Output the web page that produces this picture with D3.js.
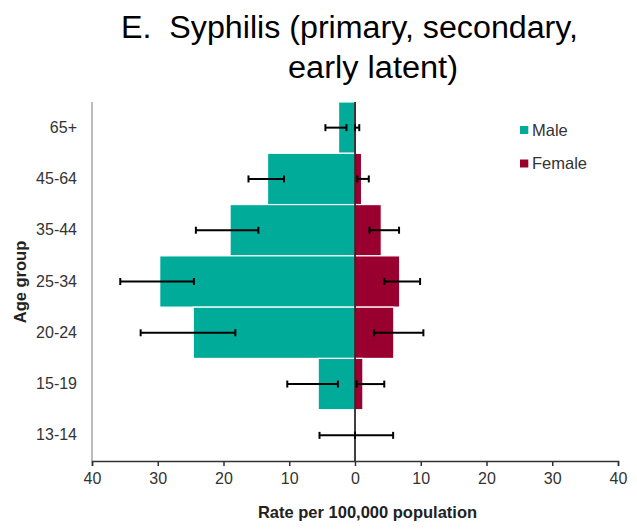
<!DOCTYPE html>
<html><head><meta charset="utf-8">
<script src="https://cdn.jsdelivr.net/npm/d3@7"></script>
<style>body{margin:0;background:#fff;} svg{display:block;font-family:"Liberation Sans",Arial,sans-serif;}</style>
</head><body><svg id="c" width="637" height="529"></svg>
<script>
const ageGroups = ["65+","45-64","35-44","25-34","20-24","15-19","13-14"];
const maleRate = [2.5, 13.3, 19.0, 29.7, 24.6, 5.6, 0];
const maleLow  = [1.3, 10.8, 14.7, 24.5, 18.2, 2.6, 0];
const maleHigh = [4.5, 16.2, 24.2, 35.7, 32.6, 10.3, 5.4];
const femaleRate = [0.2, 1.0, 4.0, 6.8, 5.9, 1.2, 0];
const femaleLow  = [0.0, 0.35, 2.2, 4.45, 2.9, 0.25, 0];
const femaleHigh = [0.65, 2.1, 6.7, 9.9, 10.4, 4.45, 5.8];
const xTicks = [-40,-30,-20,-10,0,10,20,30,40];
const legendItems = ["Male","Female"];
const colors = {Male:"#00AB9A", Female:"#990030"};

const svg = d3.select("#c");
const x = d3.scaleLinear().domain([-40,40]).range([92,618]);
const y = d3.scaleBand().domain(ageGroups).range([102,461]).paddingInner(0).paddingOuter(0);

// bars
const g = svg.append("g");
g.selectAll("rect.m").data(ageGroups).join("rect")
  .attr("x",(d,i)=>x(-maleRate[i])).attr("y",d=>y(d))
  .attr("width",(d,i)=>x(0)-x(-maleRate[i])).attr("height",y.bandwidth())
  .attr("fill",colors.Male).attr("stroke","#fff").attr("stroke-width",1.2);
g.selectAll("rect.f").data(ageGroups).join("rect")
  .attr("x",x(0)).attr("y",d=>y(d))
  .attr("width",(d,i)=>x(femaleRate[i])-x(0)).attr("height",y.bandwidth())
  .attr("fill",colors.Female).attr("stroke","#fff").attr("stroke-width",1.2);

// y axis line (grey)
svg.append("line").attr("x1",x(-40)).attr("x2",x(-40)).attr("y1",102).attr("y2",461)
  .attr("stroke","#a6a6a6").attr("stroke-width",1.5);
// zero line
svg.append("line").attr("x1",x(0)).attr("x2",x(0)).attr("y1",102).attr("y2",461)
  .attr("stroke","#000").attr("stroke-width",1.5);

// error bars
function errBars(low, high, sign){
  const eg = svg.append("g").attr("stroke","#000").attr("stroke-width",2);
  ageGroups.forEach((a,i)=>{
    const cy = y(a)+y.bandwidth()/2;
    const x1 = x(sign*low[i]), x2 = x(sign*high[i]);
    eg.append("line").attr("x1",x1).attr("x2",x2).attr("y1",cy).attr("y2",cy);
    [x1,x2].forEach(xx=>eg.append("line").attr("x1",xx).attr("x2",xx).attr("y1",cy-3.5).attr("y2",cy+3.5));
  });
}
errBars(maleLow, maleHigh, -1);
errBars(femaleLow, femaleHigh, 1);

// x axis
const xa = svg.append("g").attr("transform","translate(0,461)")
  .call(d3.axisBottom(x).tickValues(xTicks).tickFormat(d=>Math.abs(d)).tickSizeOuter(0).tickSize(5).tickPadding(7));
xa.select(".domain").attr("stroke","#333").attr("stroke-width",1.5);
xa.selectAll(".tick line").attr("stroke","#333").attr("stroke-width",1.5);
xa.selectAll("text").attr("font-size",16).attr("fill","#333").attr("font-family","Liberation Sans, Arial");

// y labels
const ya = svg.append("g").attr("transform","translate(92,0)")
  .call(d3.axisLeft(y).tickSize(0).tickPadding(15));
ya.select(".domain").remove();
ya.selectAll("text").attr("font-size",16).attr("fill","#333").attr("font-family","Liberation Sans, Arial");

// axis titles
svg.append("text").attr("x",367.5).attr("y",518).attr("text-anchor","middle")
  .attr("font-weight","bold").attr("font-size",16.5).attr("fill","#222").text("Rate per 100,000 population");
svg.append("text").attr("transform","translate(25.5,282) rotate(-90)").attr("text-anchor","middle")
  .attr("font-weight","bold").attr("font-size",16.5).attr("fill","#222").text("Age group");

// title
svg.append("text").attr("x",121).attr("y",38).attr("text-anchor","start")
  .attr("font-size",31).attr("fill","#000").attr("xml:space","preserve")
  .attr("textLength",457).attr("lengthAdjust","spacingAndGlyphs").text("E.  Syphilis (primary, secondary,");
svg.append("text").attr("x",288).attr("y",78).attr("text-anchor","start")
  .attr("font-size",31).attr("fill","#000")
  .attr("textLength",170).attr("lengthAdjust","spacingAndGlyphs").text("early latent)");

// legend
const lg = svg.append("g");
legendItems.forEach((k,i)=>{
  const ly = 130 + i*33.5;
  lg.append("rect").attr("x",520).attr("y",ly-4).attr("width",8.3).attr("height",8).attr("fill",colors[k]);
  lg.append("text").attr("x",532).attr("y",ly+5.5).attr("font-size",16.5).attr("fill","#333").text(k);
});
</script></body></html>
